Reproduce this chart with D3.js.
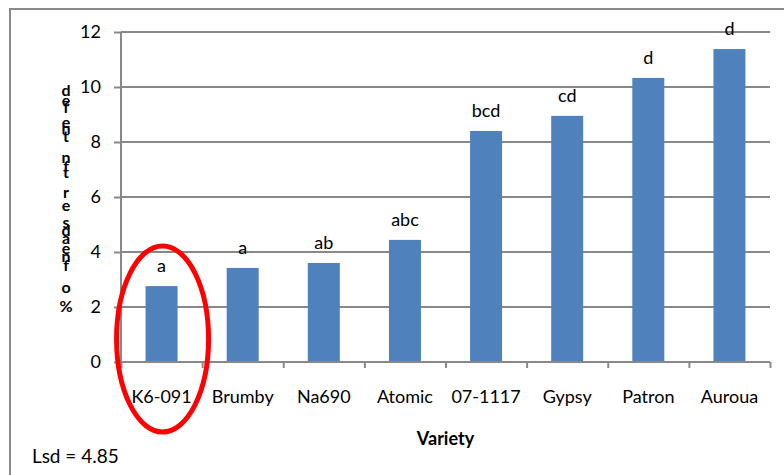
<!DOCTYPE html>
<html><head><meta charset="utf-8">
<script src="https://cdn.jsdelivr.net/npm/d3@7"></script>
<style>body{margin:0;background:#fff}svg{display:block}text{font-family:Lato,"Open Sans",sans-serif;fill:#000}</style>
</head><body><svg id="c" width="784" height="475"></svg>
<script>
const categories = ["K6-091","Brumby","Na690","Atomic","07-1117","Gypsy","Patron","Auroua"];
const values = [2.76, 3.42, 3.6, 4.44, 8.4, 8.95, 10.33, 11.38];
const letters = ["a","a","ab","abc","bcd","cd","d","d"];
const yTicks = [0,2,4,6,8,10,12];
const xTitle = "Variety";
const yTitleGlyphs = ["d","e","f","e","n","t","n","f","t","r","e","s","d","a","e","n","f","o","%"];
const noteText = "Lsd = 4.85";

const svg = d3.select("#c");
const L = 121, R = 770, T = 32, B = 362;
const x = d3.scaleBand().domain(categories).range([L, R]).padding(0);
const y = d3.scaleLinear().domain([0, 12]).range([B, T]);
const grey = "#888888";

// outer border
svg.append("rect").attr("x",10).attr("y",9).attr("width",800).attr("height",500)
  .attr("fill","none").attr("stroke","#8a8a8a").attr("stroke-width",2);

// gridlines
svg.append("g").selectAll("line").data(yTicks.filter(d=>d>0)).join("line")
  .attr("x1",L).attr("x2",R).attr("y1",d=>y(d)).attr("y2",d=>y(d))
  .attr("stroke",grey).attr("stroke-width",2);

// y axis
const yAxis = svg.append("g").attr("transform",`translate(${L},0)`)
  .call(d3.axisLeft(y).tickValues(yTicks).tickSize(7).tickPadding(13));
yAxis.select(".domain").attr("stroke",grey).attr("stroke-width",2).attr("d",`M0,${B}V${T}`);
yAxis.selectAll(".tick line").attr("stroke",grey).attr("stroke-width",2);
yAxis.selectAll(".tick text").style("font-family","Lato").style("font-size","18px").attr("fill","#000");

// bars
const bw = 32;
svg.append("g").selectAll("rect").data(values).join("rect")
  .attr("x",(d,i)=>x(categories[i])+x.bandwidth()/2-bw/2)
  .attr("width",bw)
  .attr("y",d=>y(d)).attr("height",d=>B-y(d))
  .attr("fill","#4F81BD");

// x axis
const xb = d3.scaleLinear().domain([0,categories.length]).range([L,R]);
const xAxis = svg.append("g").attr("transform",`translate(0,${B})`)
  .call(d3.axisBottom(xb).tickValues(d3.range(0,categories.length+1)).tickSize(6).tickFormat(""));
xAxis.select(".domain").attr("stroke",grey).attr("stroke-width",2).attr("d",`M${L},0H${R}`);
xAxis.selectAll(".tick line").attr("stroke",grey).attr("stroke-width",2);

svg.append("g").selectAll("text").data(categories).join("text")
  .attr("x",d=>x(d)+x.bandwidth()/2).attr("y",403)
  .attr("text-anchor","middle").style("font-size","18px").text(d=>d);

// letters above bars
svg.append("g").selectAll("text").data(letters).join("text")
  .attr("x",(d,i)=>x(categories[i])+x.bandwidth()/2)
  .attr("y",(d,i)=>y(values[i])-14)
  .attr("text-anchor","middle").style("font-size","18px").text(d=>d);

// x title
svg.append("text").attr("x",(L+R)/2).attr("y",445).attr("text-anchor","middle")
  .style("font-size","18px").style("font-weight","bold").text(xTitle);

// y title (stacked, overlapping glyphs as in the original)
const glyphY = [96,106,113,128,134,142,163,172,178,198,211,228,236,244,254,262,271,293,312];
svg.append("g").selectAll("text").data(yTitleGlyphs).join("text")
  .attr("x",66).attr("y",(d,i)=>glyphY[i]).attr("text-anchor","middle")
  .style("font-size","16px").style("font-weight","bold").text(d=>d);

// note
svg.append("text").attr("x",32).attr("y",463).style("font-size","19px").text(noteText);

// red ellipse
svg.append("ellipse").attr("cx",x(categories[0])+x.bandwidth()/2+1).attr("cy",339)
  .attr("rx",46).attr("ry",93).attr("fill","none").attr("stroke","#ff0000").attr("stroke-width",5);
</script></body></html>
